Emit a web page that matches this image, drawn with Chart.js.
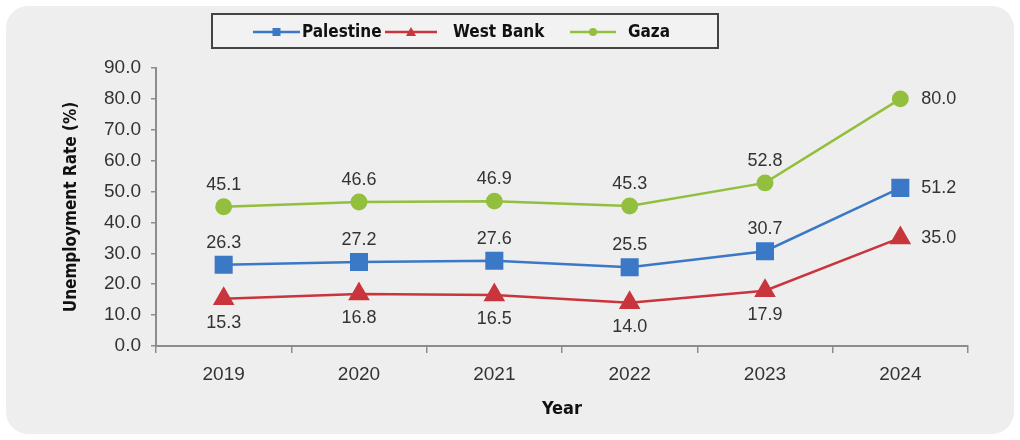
<!DOCTYPE html>
<html>
<head>
<meta charset="utf-8">
<script src="https://cdn.jsdelivr.net/npm/chart.js@4"></script>
<style>
  html, body { margin: 0; padding: 0; background: #ffffff; }
  #wrap { width: 1020px; height: 440px; position: relative; }
</style>
</head>
<body>
<div id="wrap"><canvas id="chart" width="1020" height="440"></canvas></div>
<script>
// Data
const years = ["2019", "2020", "2021", "2022", "2023", "2024"];
const palestine = [26.3, 27.2, 27.6, 25.5, 30.7, 51.2];
const westBank = [15.3, 16.8, 16.5, 14.0, 17.9, 35.0];
const gaza = [45.1, 46.6, 46.9, 45.3, 52.8, 80.0];

const BLUE = "#3b78c6";
const RED = "#c9353c";
const GREEN = "#93bf3e";
const TEXT = "#333333";
const NARROW = "'DejaVu Sans Condensed', 'Liberation Sans Narrow', 'Arial Narrow', sans-serif";
const SANS = "'Liberation Sans', Arial, sans-serif";

// gray rounded panel behind everything
const panelPlugin = {
  id: "panel",
  beforeDraw(chart) {
    const ctx = chart.ctx;
    ctx.save();
    ctx.fillStyle = "#eeeeee";
    ctx.beginPath();
    ctx.roundRect(6, 6, 1008, 428, 22);
    ctx.fill();
    ctx.restore();
  }
};

// value labels next to each point
const labelPlugin = {
  id: "valueLabels",
  afterDatasetsDraw(chart) {
    const ctx = chart.ctx;
    ctx.save();
    ctx.font = "18px " + SANS;
    ctx.fillStyle = TEXT;
    ctx.textBaseline = "middle";
    chart.data.datasets.forEach((ds, i) => {
      const meta = chart.getDatasetMeta(i);
      meta.data.forEach((pt, j) => {
        const txt = ds.data[j].toFixed(1);
        const last = j === ds.data.length - 1;
        if (last) {
          ctx.textAlign = "left";
          ctx.fillText(txt, pt.x + 21, pt.y);
        } else if (ds.labelPos === "below") {
          ctx.textAlign = "center";
          ctx.fillText(txt, pt.x, pt.y + 24);
        } else {
          ctx.textAlign = "center";
          ctx.fillText(txt, pt.x, pt.y - 22);
        }
      });
    });
    ctx.restore();
  }
};

// boxed legend with line + marker samples
const legendPlugin = {
  id: "boxLegend",
  afterDraw(chart) {
    const ctx = chart.ctx;
    ctx.save();
    ctx.fillStyle = "#f2f2f2";
    ctx.fillRect(212, 14, 506, 34);
    ctx.strokeStyle = "#444444";
    ctx.lineWidth = 2;
    ctx.strokeRect(212, 14, 506, 34);
    const items = [
      { ds: 0, x0: 253, x1: 300, tx: 302 },
      { ds: 1, x0: 385, x1: 437, tx: 453 },
      { ds: 2, x0: 570, x1: 616, tx: 628 }
    ];
    const y = 32;
    items.forEach(it => {
      const ds = chart.data.datasets[it.ds];
      const cx = (it.x0 + it.x1) / 2;
      ctx.strokeStyle = ds.borderColor;
      ctx.lineWidth = 2.5;
      ctx.beginPath();
      ctx.moveTo(it.x0, y);
      ctx.lineTo(it.x1, y);
      ctx.stroke();
      ctx.fillStyle = ds.borderColor;
      ctx.beginPath();
      if (ds.pointStyle === "rect") {
        ctx.fillRect(cx - 4, y - 4, 8, 8);
      } else if (ds.pointStyle === "triangle") {
        ctx.moveTo(cx, y - 5); ctx.lineTo(cx + 5, y + 4); ctx.lineTo(cx - 5, y + 4);
        ctx.closePath(); ctx.fill();
      } else {
        ctx.arc(cx, y, 4, 0, Math.PI * 2); ctx.fill();
      }
      ctx.fillStyle = "#111111";
      ctx.font = "bold 17px " + NARROW;
      ctx.textAlign = "left";
      ctx.textBaseline = "middle";
      ctx.fillText(ds.label, it.tx, y + 1);
    });
    ctx.restore();
  }
};

new Chart(document.getElementById("chart"), {
  type: "line",
  data: {
    labels: years,
    datasets: [
      {
        label: "Palestine", data: palestine, borderColor: BLUE, backgroundColor: BLUE,
        borderWidth: 2.5, pointStyle: "rect", pointRadius: 11, pointHoverRadius: 11,
        labelPos: "above"
      },
      {
        label: "West Bank", data: westBank, borderColor: RED, backgroundColor: RED,
        borderWidth: 2.5, pointStyle: "triangle", pointRadius: 10, pointHoverRadius: 10,
        labelPos: "below"
      },
      {
        label: "Gaza", data: gaza, borderColor: GREEN, backgroundColor: GREEN,
        borderWidth: 2.5, pointStyle: "circle", pointRadius: 7.2, pointHoverRadius: 7.2,
        labelPos: "above"
      }
    ]
  },
  options: {
    responsive: false,
    animation: false,
    layout: { padding: { left: 0, top: 68, right: 52, bottom: 20 } },
    plugins: {
      legend: { display: false },
      tooltip: { enabled: false }
    },
    scales: {
      x: {
        offset: true,
        grid: {
          offset: true, drawOnChartArea: false, drawTicks: true,
          tickLength: 7, color: "#8c8c8c", lineWidth: 1.5
        },
        border: { color: "#8c8c8c", width: 2 },
        ticks: {
          color: TEXT, padding: 10,
          font: { family: SANS, size: 19 }
        },
        title: {
          display: true, text: "Year", color: "#111111",
          font: { family: NARROW, size: 18, weight: "bold" },
          padding: { top: 0, bottom: 0 }
        },
        afterFit(scale) { scale.height = 74; }
      },
      y: {
        min: 0, max: 90,
        ticks: {
          stepSize: 10, color: TEXT, padding: 10,
          font: { family: SANS, size: 19 },
          callback: v => v.toFixed(1)
        },
        grid: {
          drawOnChartArea: false, drawTicks: true, tickLength: 5,
          color: "#8c8c8c", lineWidth: 1.5
        },
        border: { color: "#8c8c8c", width: 2 },
        title: {
          display: true, text: "Unemployment Rate (%)", color: "#111111",
          font: { family: NARROW, size: 17, weight: "bold" },
          padding: { top: 61, bottom: 0 }
        },
        afterFit(scale) { scale.width = 156; }
      }
    }
  },
  plugins: [panelPlugin, labelPlugin, legendPlugin]
});
</script>
</body>
</html>
